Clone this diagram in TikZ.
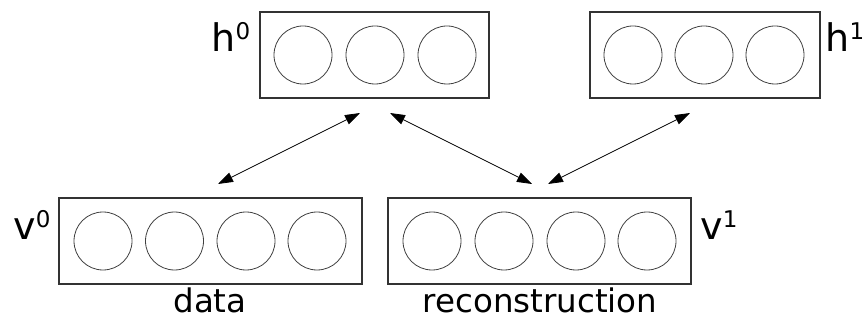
\documentclass[tikz,border=0pt]{standalone}
\usepackage{fontspec}
\setmainfont{DejaVu Sans}
\usetikzlibrary{arrows.meta}
\begin{document}
\begin{tikzpicture}[x=1pt,y=-1pt,
  layer/.style={draw=black!80,line width=1.1pt,minimum height=86pt,inner sep=0pt},
  unit/.style={circle,draw=black!75,line width=0.8pt,minimum size=58pt,inner sep=0pt},
  lbl/.style={font=\fontsize{38}{40}\selectfont,inner sep=0pt,anchor=base},
  captext/.style={font=\fontsize{32.5}{36}\selectfont,inner sep=0pt,anchor=base},
  link/.style={line width=0.8pt,{Triangle[length=15pt,width=10pt]}-{Triangle[length=15pt,width=10pt]}}]
\useasboundingbox (0,0) rectangle (864,320);
% boxes
\node[layer,minimum width=229pt] (H0) at (374.5,55) {};
\node[layer,minimum width=230pt] (H1) at (705,55) {};
\node[layer,minimum width=303pt] (V0) at (210.5,241) {};
\node[layer,minimum width=303pt] (V1) at (539.5,241) {};
% units
\foreach \x [count=\i] in {303,375,447} \node[unit] (h0u\i) at (\x,55) {};
\foreach \x [count=\i] in {633,704,775} \node[unit] (h1u\i) at (\x,55) {};
\foreach \x [count=\i] in {103,174.5,246,317} \node[unit] (v0u\i) at (\x,241) {};
\foreach \x [count=\i] in {432,504,576,647} \node[unit] (v1u\i) at (\x,241) {};
% labels
\node[lbl] (lh0) at (231,52) {h\raisebox{0.33em}{\fontsize{23}{23}\selectfont 0}};
\node[lbl] (lh1) at (845,52) {h\raisebox{0.33em}{\fontsize{23}{23}\selectfont 1}};
\node[lbl] (lv0) at (32,240) {v\raisebox{0.33em}{\fontsize{23}{23}\selectfont 0}};
\node[lbl] (lv1) at (719,240) {v\raisebox{0.33em}{\fontsize{23}{23}\selectfont 1}};
\node[captext] (data) at (210,312) {data};
\node[captext] (rec) at (540,312) {reconstruction};
% arrow end points
\coordinate (a1) at (218,184);
\coordinate (b1) at (360,113);
\coordinate (a2) at (390,113);
\coordinate (b2) at (532,184);
\coordinate (a3) at (548,184);
\coordinate (b3) at (690,113);
\draw[link] (a1) -- (b1);
\draw[link] (a2) -- (b2);
\draw[link] (a3) -- (b3);
\end{tikzpicture}
\end{document}
